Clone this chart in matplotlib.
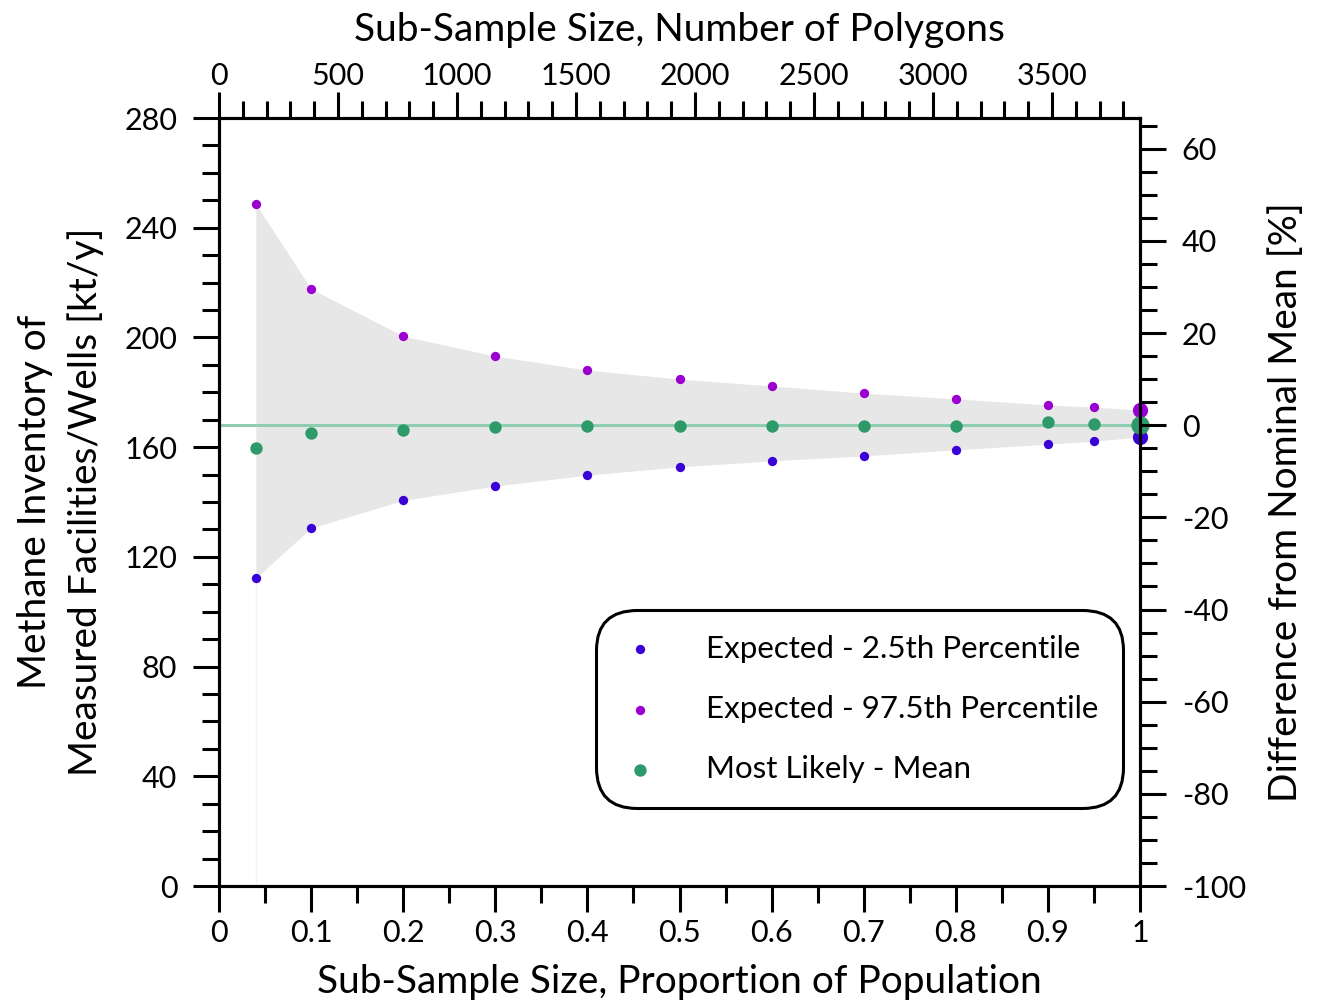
import numpy as np
import matplotlib
matplotlib.use("Agg")
import matplotlib.pyplot as plt
from matplotlib.ticker import MultipleLocator

plt.rcParams["font.family"] = ["Lato", "DejaVu Sans"]
plt.rcParams["axes.unicode_minus"] = False

# proportion of the population sampled
prop = [0.04, 0.1, 0.2, 0.3, 0.4, 0.5, 0.6, 0.7, 0.8, 0.9, 0.95, 1.0]
# kt/y values
p025 = [112.3, 130.5, 140.6, 145.8, 149.8, 152.8, 155.0, 156.8, 159.0, 161.1, 162.2, 163.7]
p975 = [248.6, 217.7, 200.5, 193.2, 188.1, 184.8, 182.3, 179.7, 177.6, 175.4, 174.6, 173.5]
mean = [159.7, 165.2, 166.3, 167.2, 167.6, 167.7, 167.7, 167.7, 167.7, 169.0, 168.6, 168.0]
nominal = 168.0
n_polygons = 3870

c_lo = "#3a00d8"
c_hi = "#9a00d0"
c_mean = "#2e9a6a"

fig = plt.figure(figsize=(13.2, 10), dpi=100)
ax = fig.add_axes([219/1320, 0.114, (1140-219)/1320, (886-118)/1000])

x = np.array(prop)
ax.fill_between(x, p025, p975, color="#e7e7e7", linewidth=0, zorder=1)
ax.plot([prop[0], prop[0]], [0, p025[0]], color="#f3f3f3", lw=1, zorder=1)
ax.axhline(nominal, color="#8fcdb0", lw=2.2, zorder=2)

ax.scatter(x[:-1], p025[:-1], s=45, color=c_lo, zorder=4, linewidths=0)
ax.scatter(x[:-1], p975[:-1], s=45, color=c_hi, zorder=4, linewidths=0)
ax.scatter(x[:-1], mean[:-1], s=80, color=c_mean, zorder=5, linewidths=0)
ax.scatter(x[-1:], p025[-1:], s=120, color=c_lo, zorder=6, linewidths=0, clip_on=False)
ax.scatter(x[-1:], p975[-1:], s=120, color=c_hi, zorder=6, linewidths=0, clip_on=False)
ax.scatter(x[-1:], mean[-1:], s=175, color=c_mean, zorder=7, linewidths=0, clip_on=False)

ax.set_xlim(0, 1)
ax.set_ylim(0, 280)

tick_major = dict(length=19, width=2.2, labelsize=22)
tick_minor = dict(length=12, width=2.2)

for sp in ax.spines.values():
    sp.set_linewidth(2.2)

ax.xaxis.set_major_locator(MultipleLocator(0.1))
ax.xaxis.set_minor_locator(MultipleLocator(0.05))
ax.yaxis.set_major_locator(MultipleLocator(40))
ax.yaxis.set_minor_locator(MultipleLocator(10))
ax.tick_params(which="major", direction="out", **tick_major)
ax.tick_params(which="minor", direction="out", **tick_minor)
ax.tick_params(axis="x", pad=5)
ax.tick_params(axis="y", pad=11)
ax.set_xticks(np.arange(0, 1.01, 0.1))
ax.set_xticklabels(["0", "0.1", "0.2", "0.3", "0.4", "0.5", "0.6", "0.7", "0.8", "0.9", "1"])
ax.set_xlabel("Sub-Sample Size, Proportion of Population", fontsize=28, labelpad=12)
ax.set_ylabel("Methane Inventory of\nMeasured Facilities/Wells [kt/y]", fontsize=28,
              labelpad=15, linespacing=1.47)

# top axis: number of polygons
top = ax.twiny()
top.set_xlim(0, n_polygons)
top.xaxis.set_major_locator(MultipleLocator(500))
top.xaxis.set_minor_locator(MultipleLocator(100))
top.tick_params(which="major", direction="out", pad=1, **tick_major)
top.tick_params(which="minor", direction="out", **tick_minor)
top.set_xlabel("Sub-Sample Size, Number of Polygons", fontsize=28, labelpad=15)
for sp in top.spines.values():
    sp.set_linewidth(2.2)

# right axis: difference from nominal mean
right = ax.twinx()
right.set_ylim((0 / nominal - 1) * 100, (280 / nominal - 1) * 100)
right.yaxis.set_major_locator(MultipleLocator(20))
right.yaxis.set_minor_locator(MultipleLocator(5))
right.tick_params(which="major", direction="out", pad=11, **tick_major)
right.tick_params(which="minor", direction="out", **tick_minor)
right.set_ylabel("Difference from Nominal Mean [%]", fontsize=28, labelpad=16)
for sp in right.spines.values():
    sp.set_linewidth(2.2)

# legend
h1 = ax.scatter([], [], s=45, color=c_lo, linewidths=0)
h2 = ax.scatter([], [], s=45, color=c_hi, linewidths=0)
h3 = ax.scatter([], [], s=80, color=c_mean, linewidths=0)
leg = right.legend([h1, h2, h3],
                   ["Expected - 2.5th Percentile", "Expected - 97.5th Percentile",
                    "Most Likely - Mean"],
                   loc="lower right", bbox_to_anchor=(0.9815, 0.1016),
                   fontsize=22.5, frameon=True, fancybox=True,
                   handlelength=1.2, handletextpad=1.5,
                   labelspacing=1.03, borderpad=0.8, borderaxespad=0)
frame = leg.get_frame()
frame.set_edgecolor("black")
frame.set_linewidth(2.2)
frame.set_boxstyle("round,pad=0,rounding_size=1.3")
frame.set_alpha(1)

fig.savefig("out.png", dpi=100)
